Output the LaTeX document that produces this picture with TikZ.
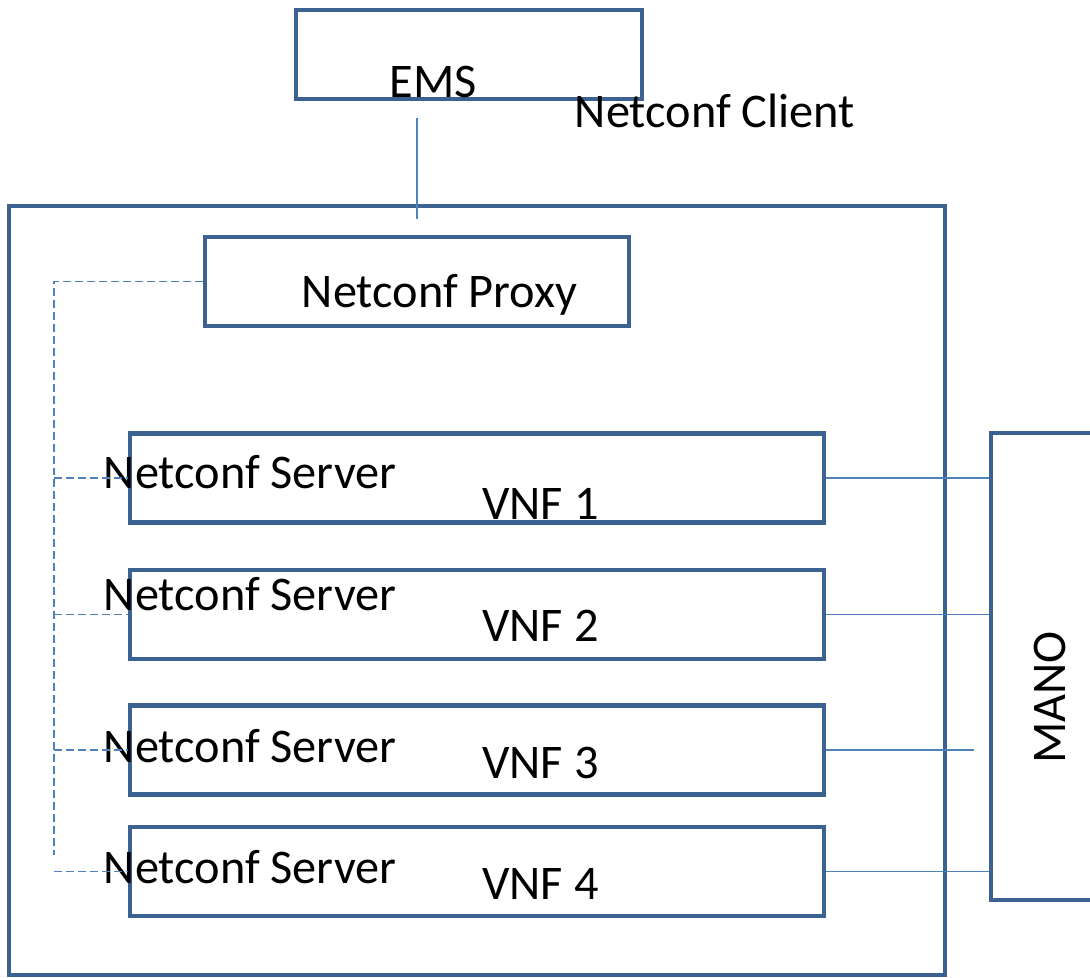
\documentclass[tikz,border=0pt]{standalone}
\usepackage{fontspec}
\setmainfont{Carlito}
\definecolor{boxblue}{HTML}{3C6291}
\definecolor{lineblue}{HTML}{4F81BD}

\begin{document}
\begin{tikzpicture}[box/.style={draw=boxblue, line width=2.8pt, inner sep=0pt, minimum height=1.78cm},
  vnfbox/.style={box, minimum width=13.88cm},
  link/.style={draw=lineblue, line width=0.8pt},
  bus/.style={link, dash pattern=on 4.5pt off 2.3pt},
  lbl/.style={anchor=base west, inner sep=0pt, font=\fontsize{27.5}{33}\selectfont}]
\useasboundingbox (0,0) rectangle (21.8,19.54);
\node[box, minimum width=6.92cm] (ems) at (9.38,18.45) {};
\node[box, minimum width=18.72cm, minimum height=15.38cm] (host) at (9.54,7.73) {};
\node[box, minimum width=8.48cm] (proxy) at (8.34,13.91) {};
\node[vnfbox] (vnf1) at (9.54,9.98) {};
\node[vnfbox] (vnf2) at (9.54,7.25) {};
\node[vnfbox] (vnf3) at (9.54,4.54) {};
\node[vnfbox] (vnf4) at (9.54,2.11) {};
\node[box, minimum width=2.48cm, minimum height=9.34cm] (mano) at (21.06,6.21) {};
\node[lbl] (emstext) at (7.79,17.58) {EMS};
\node[lbl] (client) at (11.49,16.98) {Netconf Client};
\node[lbl] (proxytext) at (6.03,13.38) {Netconf Proxy};
\node[lbl] (server1) at (2.07,9.76) {Netconf Server};
\node[lbl] (server2) at (2.07,7.32) {Netconf Server};
\node[lbl] (server3) at (2.07,4.30) {Netconf Server};
\node[lbl] (server4) at (2.07,1.88) {Netconf Server};
\node[lbl] (vnftext1) at (9.64,9.14) {VNF 1};
\node[lbl] (vnftext2) at (9.64,6.70) {VNF 2};
\node[lbl] (vnftext3) at (9.64,3.98) {VNF 3};
\node[lbl] (vnftext4) at (9.64,1.56) {VNF 4};
\node[lbl, rotate=90] (manotext) at (21.30,4.26) {MANO};
\coordinate (busend) at (1.08,2.44);
\draw[link, shorten <=0.34cm, shorten >=0.32cm] (proxy.north |- ems.south) -- (proxy.north);
\draw[bus] (proxy.west) -| (busend);
\draw[bus] (vnf1.west -| busend) -- (vnf1.west);
\draw[bus] (vnf2.west -| busend) -- (vnf2.west);
\draw[bus] (vnf3.west -| busend) -- (vnf3.west);
\draw[bus] (vnf4.west -| busend) -- (vnf4.west);
\draw[link] (vnf1.east) -- (vnf1.east -| mano.west);
\draw[link] (vnf2.east) -- (vnf2.east -| mano.west);
\draw[link, shorten >=0.3cm] (vnf3.east) -- (vnf3.east -| mano.west);
\draw[link] (vnf4.east) -- (vnf4.east -| mano.west);
\end{tikzpicture}
\end{document}
